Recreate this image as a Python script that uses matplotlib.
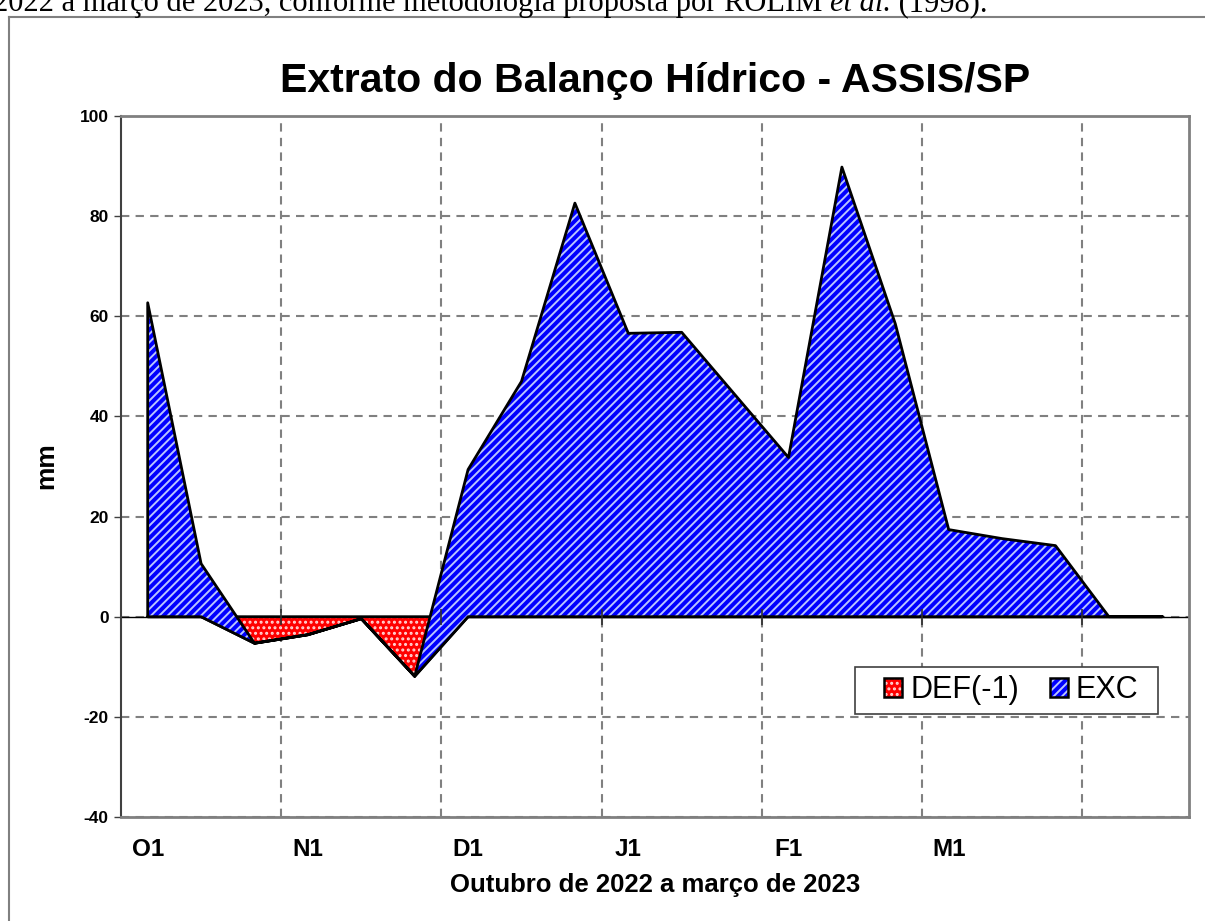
#!/usr/bin/env python3
# extrato do balanco hidrico - area empilhada DEF / EXC
import numpy as np
import matplotlib
matplotlib.use("Agg")
import matplotlib.pyplot as plt
from matplotlib.patches import Patch, Rectangle
from matplotlib.lines import Line2D

plt.rcParams['font.family'] = ['Liberation Sans', 'DejaVu Sans']
plt.rcParams['hatch.linewidth'] = 1.4
plt.rcParams['axes.unicode_minus'] = False

decendios = ['O1', 'O2', 'O3', 'N1', 'N2', 'N3', 'D1', 'D2', 'D3',
             'J1', 'J2', 'J3', 'F1', 'F2', 'F3', 'M1', 'M2', 'M3', '', '']
DEF = [0, 0, -5.3, -3.6, -0.4, -11.9, 0, 0, 0,
       0, 0, 0, 0, 0, 0, 0, 0, 0, 0, 0]
EXC = [62.7, 10.6, 0, 0, 0, 0, 29.4, 47.0, 82.6,
       56.6, 56.8, 44.3, 31.8, 89.8, 58.5, 17.4, 15.6, 14.2, 0, 0]

x = np.arange(len(decendios))
base = np.array(DEF, dtype=float)
topo = base + np.array(EXC, dtype=float)

fig = plt.figure(figsize=(12.05, 9.21), dpi=100)
W, H = 1205, 921
ax = fig.add_axes([121 / W, 1 - 817 / H, 1068 / W, 701 / H])

# DEF(-1): vermelho com pontos brancos
ax.fill_between(x, 0, base, facecolor='red', edgecolor='none', lw=0, zorder=3)
ax.fill_between(x, 0, base, facecolor='none', edgecolor='#ffd6d6', hatch='...', lw=0, zorder=3)
ax.fill_between(x, 0, base, facecolor='none', edgecolor='black', lw=2, zorder=3)
# EXC: azul com listras diagonais
ax.fill_between(x, base, topo, facecolor='#0000ff', edgecolor='none', lw=0, zorder=4)
ax.fill_between(x, base, topo, facecolor='none', edgecolor='#b8c4ff', hatch='////', lw=0, zorder=4)
ax.fill_between(x, base, topo, facecolor='none', edgecolor='black', lw=2, zorder=4)

ax.set_xlim(-0.5, len(x) - 0.5)
ax.set_ylim(-40, 100)
ax.set_yticks(np.arange(-40, 101, 20))
ax.tick_params(axis='y', direction='out', length=5, width=1, color='#404040',
               labelsize=12.5, pad=4)
for t in ax.get_yticklabels():
    t.set_fontweight('bold')

ax.set_xticks(x[::3])
ax.set_xticklabels(decendios[::3], fontsize=17.5, fontweight='bold')
ax.tick_params(axis='x', which='major', length=0, pad=15)
limites = np.arange(2.5, len(x) - 1, 3)
ax.set_xticks(limites, minor=True)
ax.tick_params(axis='x', which='minor', length=0)

ax.grid(True, which='minor', axis='x', color='#808080', ls=(0, (4, 3)), lw=1.5, zorder=1)
ax.grid(True, which='major', axis='y', color='#808080', ls=(0, (4, 3)), lw=1.5, zorder=1)
ax.grid(False, which='major', axis='x')
ax.set_axisbelow(True)

# eixo das categorias em y = 0
ax.axhline(0, color='black', lw=1, zorder=2)
ax.plot(limites, np.zeros(len(limites)), ls='none', marker='|', ms=11, mew=1.2,
        color='#303030', zorder=5)

for s in ['top', 'right', 'bottom']:
    ax.spines[s].set_color('#808080')
    ax.spines[s].set_linewidth(2)
ax.spines['left'].set_color('#404040')
ax.spines['left'].set_linewidth(1.5)

# legenda: caixa propria + itens sem moldura
ax.add_patch(Rectangle((0.687, 0.147), 0.284, 0.067, transform=ax.transAxes,
                       facecolor='white', edgecolor='#404040', lw=1.2, zorder=6))
h_def = (Patch(facecolor='red', edgecolor='#ffd6d6', hatch='...', lw=0),
         Patch(facecolor='none', edgecolor='black', lw=1.8))
h_exc = (Patch(facecolor='#0000ff', edgecolor='#b8c4ff', hatch='////', lw=0),
         Patch(facecolor='none', edgecolor='black', lw=1.8))
leg = ax.legend([h_def, h_exc], ['DEF(-1)', 'EXC'], ncol=2, fontsize=22,
                loc='center left', bbox_to_anchor=(0.7144, 0.1805),
                borderaxespad=0, borderpad=0, frameon=False,
                handlelength=0.6, handleheight=0.6, handletextpad=0.26,
                columnspacing=1.0)
leg.set_zorder(7)

fig.text(655 / W, 1 - 91.7 / H, 'Extrato do Balanço Hídrico - ASSIS/SP',
         ha='center', va='baseline', fontsize=29.5, fontweight='bold')
fig.text(655 / W, 1 - 885 / H, 'Outubro de 2022 a março de 2023',
         ha='center', va='center', fontsize=18.5, fontweight='bold')
fig.text(46 / W, 1 - 466 / H, 'mm', rotation=90, ha='center', va='center',
         fontsize=19, fontweight='bold')

# moldura do grafico no documento
fig.add_artist(Line2D([9 / W, 9 / W], [0, 1 - 17 / H], color='#808080', lw=1.5))
fig.add_artist(Line2D([9 / W, 1], [1 - 17 / H, 1 - 17 / H], color='#808080', lw=1.5))

# linha do texto do documento, cortada no topo
r = fig.canvas.get_renderer()
partes = [('2022 a março de 2023, conforme metodologia proposta por ROLIM ', 'normal'),
          ('et al.', 'italic'),
          (' (1998).', 'normal')]
px = -7
for txt, estilo in partes:
    t = fig.text(px / W, 1 - 11 / H, txt, family='Liberation Serif', style=estilo,
                 fontsize=22, ha='left', va='baseline')
    px = t.get_window_extent(r).x1

fig.savefig('out.png', dpi=100)
